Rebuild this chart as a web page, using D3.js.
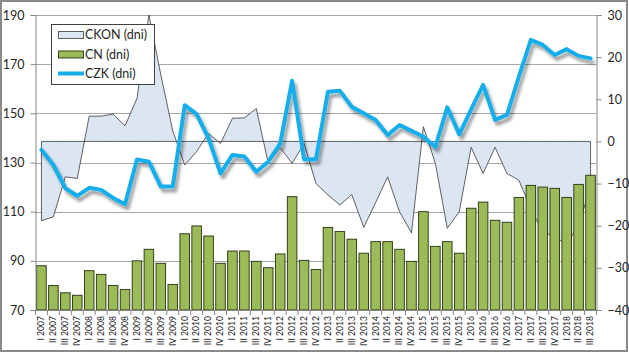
<!DOCTYPE html>
<html><head><meta charset="utf-8">
<script src="https://cdn.jsdelivr.net/npm/d3@7"></script>
<style>
html,body{margin:0;padding:0;background:#fff;}
svg{display:block;font-family:Lato,"Open Sans",sans-serif;}
</style></head>
<body><svg id="c" width="629" height="354"></svg>
<script>
const categories = [
 "I 2007","II 2007","III 2007","IV 2007",
 "I 2008","II 2008","III 2008","IV 2008",
 "I 2009","II 2009","III 2009","IV 2009",
 "I 2010","II 2010","III 2010","IV 2010",
 "I 2011","II 2011","III 2011","IV 2011",
 "I 2012","II 2012","III 2012","IV 2012",
 "I 2013","II 2013","III 2013","IV 2013",
 "I 2014","II 2014","III 2014","IV 2014",
 "I 2015","II 2015","III 2015","IV 2015",
 "I 2016","II 2016","III 2016","IV 2016",
 "I 2017","II 2017","III 2017","IV 2017",
 "I 2018","II 2018","III 2018"];
const cn = [88,80,77,76, 86,84.5,80,78.3, 90,94.7,89,80.4, 101,104.2,100.1,89,
 94,94,89.8,87.2, 92.8,116.1,90.2,86.5, 103.6,101.9,98.8,93.1, 97.8,97.8,94.7,89.8,
 110,95.9,97.8,93.1, 111.4,113.9,106.5,105.7, 115.8,120.7,120,119.5, 115.8,121.1,124.8];
const ckon = [-18.8,-17.9,-8.4,-8.8,6.0,6.0,6.5,3.7,10.2,30,
 15.8,2.5,-5.6,-2.4,1.9,-0.5,5.5,5.6,7.8,-5.2,
 -1.5,-5.2,-0.5,-10,-12.7,-15.1,-12.6,-20.4,-14.5,-8.4,
 -16.7,-21.7,3.5,-5.2,-20.6,-16.7,-1.4,-7.6,-1.4,-7.6,
 -9.2,-16,-21.5,-22.5,-24.5,-19.8,-11];
const czk = [-2.0,-5.6,-11.1,-12.9,-11.0,-11.5,-13.4,-14.9,-4.3,-4.8,
 -10.7,-10.7,8.6,6.5,0.7,-7.6,-3.2,-3.6,-7.2,-4.8,
 -0.5,14.4,-4.2,-4.2,11.8,12.0,8.2,6.7,5.1,1.5,
 3.9,2.5,1.1,-1.3,8.1,1.7,7.6,13.4,5.1,6.3,
 15.4,24.1,22.9,20.5,21.9,20.3,19.7];
const leftTicks = [70,90,110,130,150,170,190];
const rightTicks = [-40,-30,-20,-10,0,10,20,30];
const seriesNames = ["CKON (dni)","CN (dni)","CZK (dni)"];

const svg = d3.select("#c");
const L = 35.5, R = 596.5, T = 15, B = 310;
const x = d3.scaleBand().domain(categories).range([L, R]).padding(0);
const yL = d3.scaleLinear().domain([70,190]).range([B,T]);
const yR = d3.scaleLinear().domain([-40,30]).range([B,T]);
const cx = c => x(c) + x.bandwidth()/2;

const defs = svg.append("defs");
const f = defs.append("filter").attr("id","sh").attr("x","-10%").attr("y","-10%").attr("width","130%").attr("height","140%");
f.append("feDropShadow").attr("dx",2.5).attr("dy",4).attr("stdDeviation",1.6)
 .attr("flood-color","#000").attr("flood-opacity",0.38);

// outer border
svg.append("rect").attr("x",1).attr("y",1).attr("width",626).attr("height",350)
 .attr("fill","#fff").attr("stroke","#8a8a8a").attr("stroke-width",2);

// gridlines
svg.append("g").selectAll("line").data(leftTicks.filter(d=>d>70)).join("line")
 .attr("x1",L).attr("x2",R).attr("y1",d=>Math.round(yL(d))+0.5).attr("y2",d=>Math.round(yL(d))+0.5)
 .attr("stroke","#a6a6a6").attr("stroke-width",1);

// CKON area
const area = d3.area().x((d,i)=>cx(categories[i])).y0(yR(0)).y1(d=>yR(d));
svg.append("path").datum(ckon).attr("d", area(ckon) + "Z")
 .attr("fill","#dce6f2").attr("stroke","#3a3a3a").attr("stroke-width",0.8).attr("stroke-linejoin","miter");

// CN bars
const bw = x.bandwidth();
svg.append("g").selectAll("rect").data(cn).join("rect")
 .attr("x",(d,i)=>x(categories[i]) + bw*0.1)
 .attr("width", bw*0.8)
 .attr("y", d=>yL(d))
 .attr("height", d=>yL(70)-yL(d))
 .attr("fill","#9bbb59").attr("stroke","#26300f").attr("stroke-width",0.9);

// CZK line
const line = d3.line().x((d,i)=>cx(categories[i])).y(d=>yR(d));
svg.append("path").datum(czk).attr("d", line)
 .attr("fill","none").attr("stroke","#14aeea").attr("stroke-width",4)
 .attr("stroke-linejoin","round").attr("stroke-linecap","round").attr("filter","url(#sh)");

// axes
const axisColor = "#868686";
const gl = svg.append("g").attr("transform",`translate(${L},0)`)
 .call(d3.axisLeft(yL).tickValues(leftTicks).tickSize(5).tickPadding(6));
const gr = svg.append("g").attr("transform",`translate(${R},0)`)
 .call(d3.axisRight(yR).tickValues(rightTicks).tickSize(5).tickPadding(6).tickFormat(d3.format("d")));
const gb = svg.append("g").attr("transform",`translate(0,${B})`)
 .call(d3.axisBottom(x).tickSize(0).tickPadding(0));
[gl,gr,gb].forEach(g=>{
  g.select(".domain").attr("stroke",axisColor);
  g.selectAll(".tick line").attr("stroke",axisColor);
});
gl.selectAll("text").attr("font-size",12.5).attr("fill","#262626").attr("font-family","Lato,'Open Sans',sans-serif");
gr.selectAll("text").attr("font-size",12.5).attr("fill","#262626").attr("font-family","Lato,'Open Sans',sans-serif");
gb.selectAll(".tick text").attr("font-size",8.6).attr("fill","#262626")
 .attr("font-family","Lato,'Open Sans',sans-serif")
 .attr("text-anchor","end").attr("transform","translate(0,6) rotate(-90)")
 .attr("dy","0.33em").attr("y",0).attr("x",0);
// category boundary ticks
svg.append("g").selectAll("line").data(d3.range(categories.length+1)).join("line")
 .attr("x1",i=>L + i*bw).attr("x2",i=>L + i*bw)
 .attr("y1",B).attr("y2",B+5).attr("stroke",axisColor);

// legend
const lg = svg.append("g");
lg.append("rect").attr("x",51.5).attr("y",24.5).attr("width",103).attr("height",60)
 .attr("fill","#fff").attr("stroke","#404040").attr("stroke-width",1);
const rows = [35, 54.5, 73.5];
lg.append("rect").attr("x",58.5).attr("y",rows[0]-3.5).attr("width",25).attr("height",7)
 .attr("fill","#dce6f2").attr("stroke","#3a3a3a").attr("stroke-width",0.8);
lg.append("rect").attr("x",58.5).attr("y",rows[1]-3.5).attr("width",25).attr("height",7)
 .attr("fill","#9bbb59").attr("stroke","#26300f").attr("stroke-width",0.9);
lg.append("line").attr("x1",58).attr("x2",84).attr("y1",rows[2]).attr("y2",rows[2])
 .attr("stroke","#14aeea").attr("stroke-width",4);
lg.selectAll("text").data(seriesNames).join("text")
 .attr("x",85).attr("y",(d,i)=>rows[i]).attr("dy","0.35em")
 .attr("font-size",12.5).attr("fill","#262626").text(d=>d);
</script></body></html>
